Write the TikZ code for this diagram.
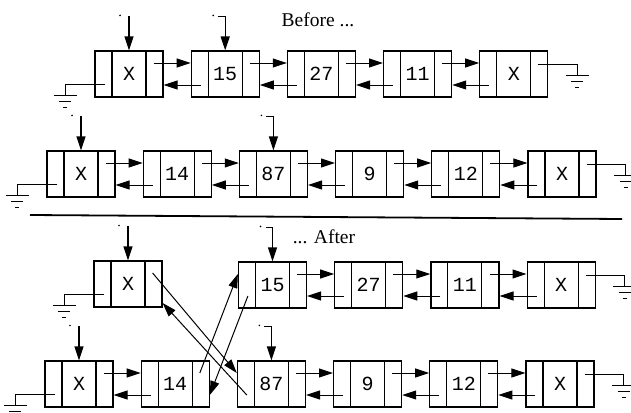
\documentclass[tikz,border=0pt]{standalone}
\usepackage{fontspec}
\setmainfont{Liberation Serif}
\setmonofont{Liberation Mono}
\usetikzlibrary{positioning,arrows.meta}

% next / prev pointers between two list nodes
\newcommand{\nxt}[2]{\draw[ptr] ([xshift=-10pt,yshift=11pt]#1.east) -- ([yshift=11pt]#2.west);}
\newcommand{\prv}[2]{\draw[ptr] ([xshift=10pt,yshift=-11pt]#2.west) -- ([yshift=-11pt]#1.east);}
\newcommand{\link}[2]{\nxt{#1}{#2}\prv{#1}{#2}}
% null ends
\newcommand{\gndleft}[1]{\draw[wire] ([xshift=11pt,yshift=-10pt]#1.west) -| ++(-40pt,-11pt)
  ++(-11.5pt,0) -- ++(23pt,0) ++(-17.5pt,-6pt) -- ++(12pt,0) ++(-8pt,-6pt) -- ++(4pt,0);}
\newcommand{\gndright}[1]{\draw[wire] ([xshift=-10pt,yshift=10pt]#1.east) -| ++(39pt,-11pt)
  ++(-11.5pt,0) -- ++(23pt,0) ++(-17.5pt,-6pt) -- ++(12pt,0) ++(-8pt,-6pt) -- ++(4pt,0);}
% list heads
\newcommand{\head}[1]{\draw[hptr] ([yshift=34pt]#1.north) -- (#1.north);
  \fill ([xshift=-9pt,yshift=35pt]#1.north) circle (0.9pt);}
\newcommand{\hooked}[1]{\draw[hptr] ([xshift=-7pt,yshift=34pt]#1.north) -- ++(7pt,0) -- (#1.north);
  \fill ([xshift=-12pt,yshift=35pt]#1.north) circle (0.9pt);}

\begin{document}
\begin{tikzpicture}[x=1pt,y=-1pt,
  lnode/.style={draw,line width=1.2pt,minimum width=68pt,minimum height=46pt,inner sep=0pt,
    font=\ttfamily\fontsize{20}{20}\selectfont,
    path picture={\draw[line width=1.1pt]
      ([xshift=17pt]path picture bounding box.north west) -- ([xshift=17pt]path picture bounding box.south west)
      ([xshift=-17pt]path picture bounding box.north east) -- ([xshift=-17pt]path picture bounding box.south east);}},
  ptr/.style={line width=1pt,-{Triangle[length=14pt,width=9pt]}},
  hptr/.style={line width=1.3pt,-{Triangle[length=14pt,width=9pt]}},
  wire/.style={line width=1pt},
  title/.style={font=\fontsize{19.5}{20}\selectfont}]
\useasboundingbox (0,0) rectangle (631,412);

\node[title] (before) at (318,20) {Before ...};

% first list
\node[lnode] (bx) at (129,74) {X};
\node[lnode,right=27pt of bx] (b15) {15};
\node[lnode,right=27pt of b15] (b27) {27};
\node[lnode,right=27pt of b27] (b11) {11};
\node[lnode,right=27pt of b11] (bxx) {X};
\link{bx}{b15} \link{b15}{b27} \link{b27}{b11} \link{b11}{bxx}
\head{bx} \hooked{b15}
\gndleft{bx} \gndright{bxx}

% second list
\node[lnode] (cx) at (81,174) {X};
\node[lnode,right=27pt of cx] (c14) {14};
\node[lnode,right=27pt of c14] (c87) {87};
\node[lnode,right=27pt of c87] (c9) {9};
\node[lnode,right=27pt of c9] (c12) {12};
\node[lnode,right=27pt of c12] (cxx) {X};
\link{cx}{c14} \link{c14}{c87} \link{c87}{c9} \link{c9}{c12} \link{c12}{cxx}
\head{cx} \hooked{c87}
\gndleft{cx} \gndright{cxx}

\draw[line width=1.8pt] (30,215) -- (622,219);
\node[title] (after) at (324,237) {... After};

% after the swap
\node[lnode] (dx) at (128,284) {X};
\node[lnode] (d15) at (272.5,285) {15};
\node[lnode,right=27pt of d15] (d27) {27};
\node[lnode,right=27pt of d27] (d11) {11};
\node[lnode,right=27pt of d11] (dxx) {X};
\link{d15}{d27} \link{d27}{d11} \link{d11}{dxx}
\head{dx} \hooked{d15}
\gndleft{dx} \gndright{dxx}

\node[lnode] (ex) at (79,384) {X};
\node[lnode,right=27pt of ex] (e14) {14};
\node[lnode,right=27pt of e14] (e87) {87};
\node[lnode,right=27pt of e87] (e9) {9};
\node[lnode,right=27pt of e9] (e12) {12};
\node[lnode,right=27pt of e12] (exx) {X};
\link{ex}{e14} \link{e87}{e9} \link{e9}{e12} \link{e12}{exx}
\head{ex} \hooked{e87}
\gndleft{ex} \gndright{exx}

% crossed pointers
\nxt{dx}{e87}
\draw[ptr] ([xshift=10pt,yshift=-11pt]e87.west) -- ([yshift=-19pt]dx.east);
\nxt{e14}{d15}
\prv{e14}{d15}
\end{tikzpicture}
\end{document}
